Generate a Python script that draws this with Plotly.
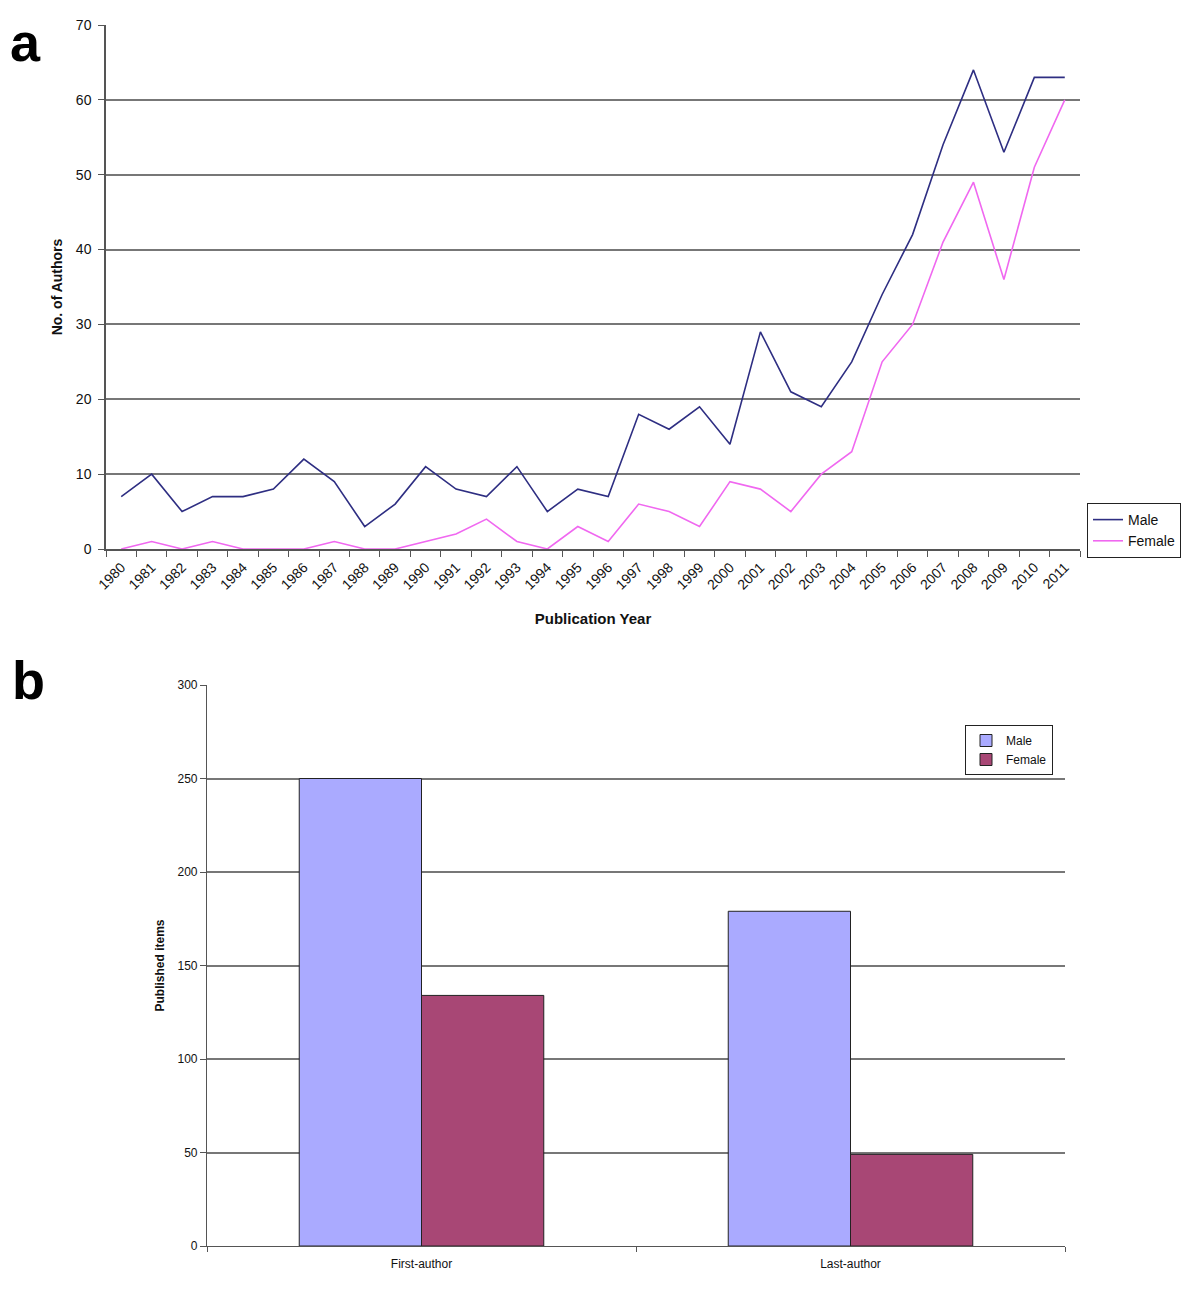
import plotly.graph_objects as go

years = [str(y) for y in range(1980, 2012)]
male_authors = [7, 10, 5, 7, 7, 8, 12, 9, 3, 6, 11, 8, 7, 11, 5, 8, 7, 18, 16, 19, 14, 29, 21, 19, 25, 34, 42, 54, 64, 53, 63, 63]
female_authors = [0, 1, 0, 1, 0, 0, 0, 1, 0, 0, 1, 2, 4, 1, 0, 3, 1, 6, 5, 3, 9, 8, 5, 10, 13, 25, 30, 41, 49, 36, 51, 60]

positions = ["First-author", "Last-author"]
male_items = [250, 179]
female_items = [134, 49]

W, H = 1200, 1299
FONT = "Liberation Sans, Arial, sans-serif"
OFF = 8  # page body offset

def px_x(v):
    return (v - OFF) / W

def px_y(v):
    return 1 - (v - OFF) / H

fig = go.Figure()

fig.add_trace(go.Scatter(x=years, y=male_authors, mode="lines", name="Male",
                         line=dict(color="#2e2e82", width=1.6), xaxis="x", yaxis="y", legend="legend"))
fig.add_trace(go.Scatter(x=years, y=female_authors, mode="lines", name="Female",
                         line=dict(color="#f068f0", width=1.6), xaxis="x", yaxis="y", legend="legend"))

fig.add_trace(go.Bar(x=positions, y=male_items, name="Male", marker=dict(color="#aaaaff", line=dict(color="#222", width=1)),
                     xaxis="x2", yaxis="y2", legend="legend2"))
fig.add_trace(go.Bar(x=positions, y=female_items, name="Female", marker=dict(color="#a84775", line=dict(color="#222", width=1)),
                     xaxis="x2", yaxis="y2", legend="legend2"))

grid = "#777777"
fig.update_layout(
    width=W, height=H,
    margin=dict(l=0, r=0, t=0, b=0, autoexpand=False),
    paper_bgcolor="white", plot_bgcolor="white",
    font=dict(family=FONT, color="#111"),
    barmode="group", bargap=0.43, bargroupgap=0,
    xaxis=dict(domain=[px_x(106), px_x(1080)], anchor="y", type="category", automargin=False,
               range=[-0.5, len(years) - 0.5],
               tickson="boundaries", ticks="outside", ticklen=6, tickcolor="#555",
               ticklabelstandoff=3,
               tickangle=-45, tickfont=dict(size=14), showline=True, linecolor="#555", linewidth=1.5,
               showgrid=False,
               title=dict(text="<b>Publication Year</b>", font=dict(size=15), standoff=22)),
    yaxis=dict(domain=[px_y(549), px_y(25)], anchor="x", range=[0, 70], dtick=10, automargin=False,
               ticks="outside", ticklen=6, tickcolor="#555", tickfont=dict(size=14),
               ticklabelstandoff=4,
               showline=True, linecolor="#555", linewidth=1.5,
               showgrid=True, gridcolor=grid, gridwidth=1.5, zeroline=False,
               title=dict(text="<b>No. of Authors</b>", font=dict(size=14), standoff=10)),
    xaxis2=dict(domain=[px_x(207), px_x(1065)], anchor="y2", type="category", automargin=False,
                tickson="boundaries", ticks="outside", ticklen=5, tickcolor="#555",
                ticklabelstandoff=6,
                tickfont=dict(size=12), showline=True, linecolor="#555", linewidth=1.2, showgrid=False),
    yaxis2=dict(domain=[px_y(1246), px_y(685)], anchor="x2", range=[0, 300], dtick=50, automargin=False,
                ticks="outside", ticklen=6, tickcolor="#555", tickfont=dict(size=12),
                showline=True, linecolor="#555", linewidth=1.2,
                showgrid=True, gridcolor=grid, gridwidth=1.5, zeroline=False,
                title=dict(text="<b>Published items</b>", font=dict(size=12), standoff=10)),
    legend=dict(x=px_x(1087), y=px_y(503), xanchor="left", yanchor="top",
                bordercolor="#222", borderwidth=1, bgcolor="white",
                font=dict(size=14), tracegroupgap=0, itemwidth=30),
    legend2=dict(x=px_x(965), y=px_y(725), xanchor="left", yanchor="top",
                 bordercolor="#222", borderwidth=1, bgcolor="white",
                 font=dict(size=12), tracegroupgap=0, itemwidth=30),
    annotations=[
        dict(text="<b>a</b>", x=px_x(8), y=px_y(10), xref="paper", yref="paper",
             xanchor="left", yanchor="top", showarrow=False, font=dict(size=54, color="black")),
        dict(text="<b>b</b>", x=px_x(10), y=px_y(648), xref="paper", yref="paper",
             xanchor="left", yanchor="top", showarrow=False, font=dict(size=54, color="black")),
    ],
)

fig.write_html("out.html")
